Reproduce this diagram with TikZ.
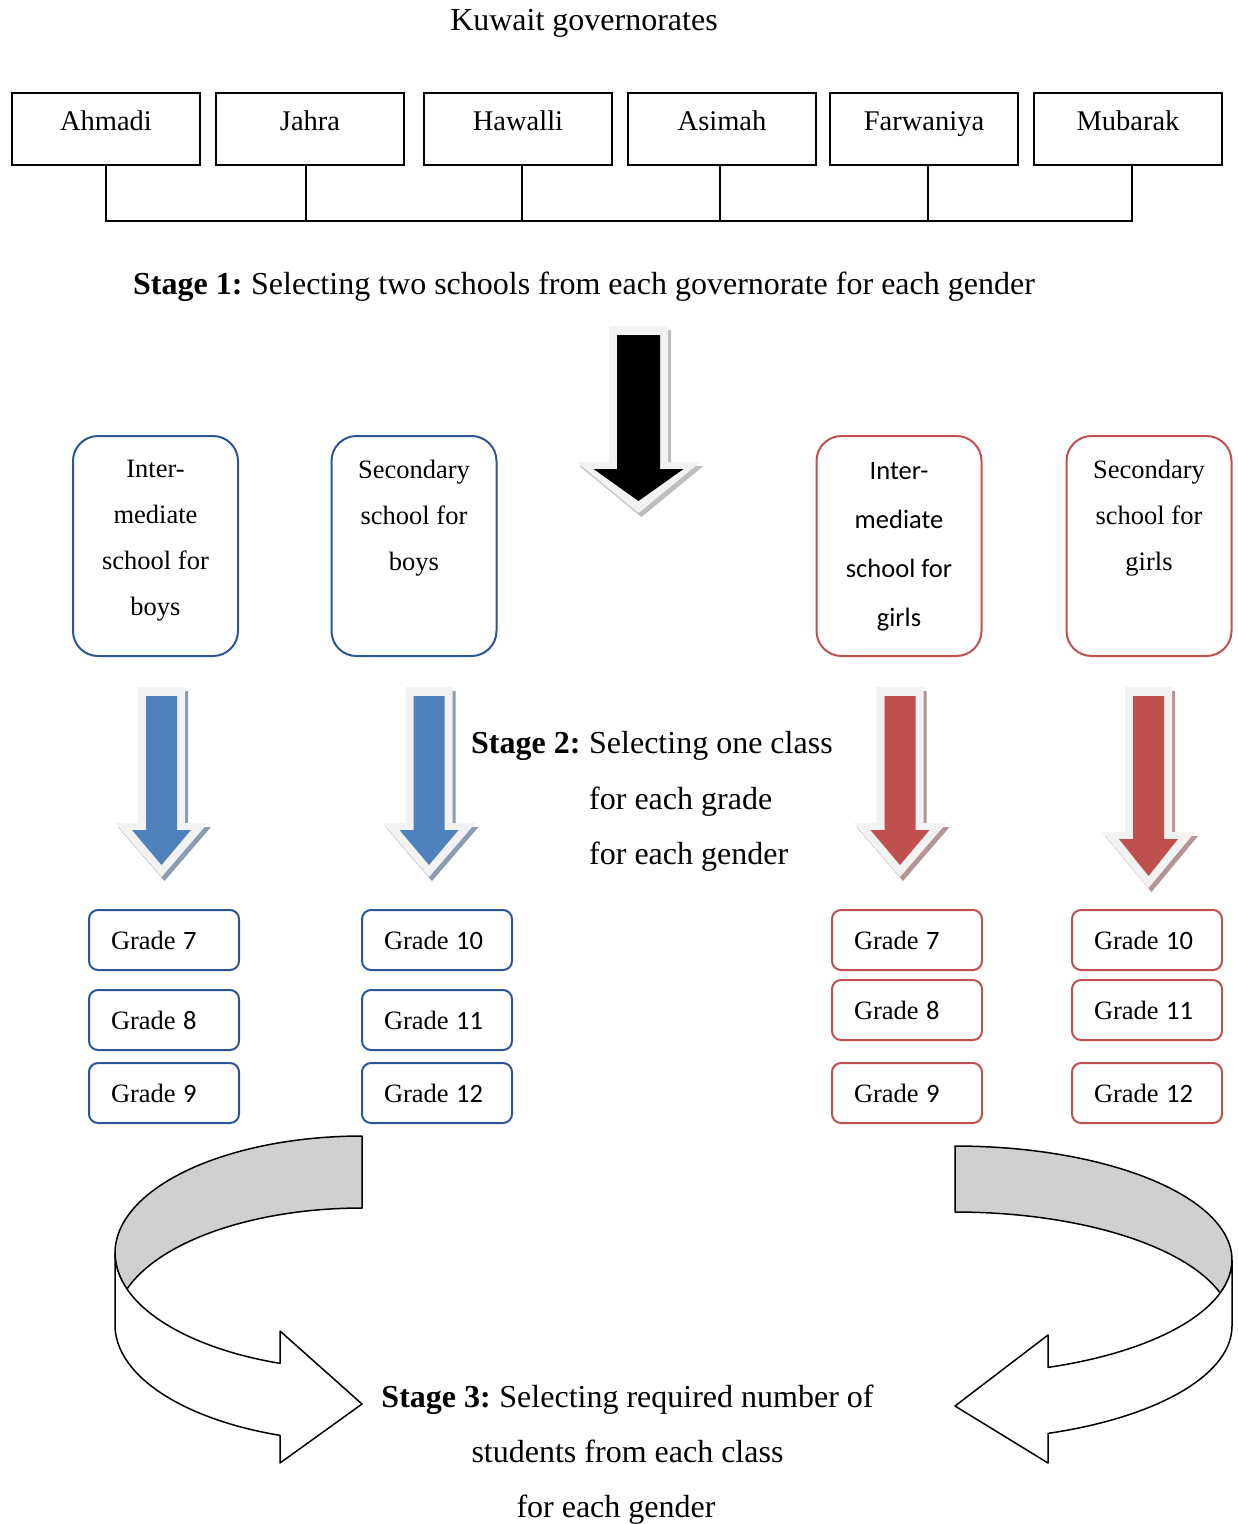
\documentclass[tikz,border=0pt]{standalone}
\usepackage{fontspec}
\setmainfont{Liberation Serif}
\newfontfamily\calib{Carlito}
\usetikzlibrary{calc}
\definecolor{bline}{HTML}{2C5593}
\definecolor{rline}{HTML}{C0504D}
\definecolor{bfill}{HTML}{4F81BD}
\definecolor{rfill}{HTML}{C0504D}
\definecolor{glow}{HTML}{F2F2F2}
\definecolor{bshadow}{HTML}{8C9BB0}
\definecolor{rshadow}{HTML}{B49494}
\definecolor{kshadow}{HTML}{BDBDBD}
\definecolor{ribbongray}{HTML}{D0D0D0}
% cx, top, shaft length, shaft half width, head half width, head length, fill, shadow
\newcommand\fatarrow[8]{%
  \begin{scope}[shift={(#1,#2)}]
    \fill[#8] ({-#4+3},4) -- ({#4+3},4) -- ({#4+3},{#3+4}) -- ({#5+3},{#3+4}) -- (3,{#3+#6+4}) -- ({-#5+3},{#3+4}) -- ({-#4+3},{#3+4}) -- cycle;
    \fill[glow] ({-#4},0) -- ({#4},0) -- ({#4},{#3}) -- ({#5},{#3}) -- (0,{#3+#6}) -- ({-#5},{#3}) -- ({-#4},{#3}) -- cycle;
    \fill[#7] ({-#4+8},9) -- ({#4-8},9) -- ({#4-8},{#3+7}) -- ({#5-17},{#3+7}) -- (0,{#3+#6-12}) -- ({-#5+17},{#3+7}) -- ({-#4+8},{#3+7}) -- cycle;
  \end{scope}}
\begin{document}
\begin{tikzpicture}[x=1pt,y=-1pt,
  govbox/.style={draw=black, line width=2pt, minimum width=188pt, minimum height=72pt, inner sep=0pt,
    font=\fontsize{28.5}{34}\selectfont, text height=19.5pt, text depth=16pt},
  conn/.style={line width=2pt},
  schoolbox/.style={rounded corners=25pt, line width=2pt, minimum width=165pt, minimum height=220pt, inner sep=0pt},
  boysbox/.style={schoolbox, draw=bline},
  girlsbox/.style={schoolbox, draw=rline},
  schooltext/.style={align=center, anchor=north, inner sep=0pt, font=\fontsize{26.5}{46}\selectfont},
  gradebox/.style={rounded corners=9pt, line width=2pt, minimum width=150pt, minimum height=60pt,
    inner xsep=22pt, inner ysep=0pt, text width=106pt, align=left,
    font=\fontsize{26.5}{30}\selectfont, text height=18pt, text depth=0pt},
  bgrade/.style={gradebox, draw=bline},
  rgrade/.style={gradebox, draw=rline},
  bigtext/.style={inner sep=0pt, font=\fontsize{32}{38}\selectfont},
  ribbon/.style={draw=black, line width=1.5pt, line join=round}]
\useasboundingbox (0,0) rectangle (1238,1524);

% title
\node[bigtext, anchor=base] (title) at (584,30) {Kuwait governorates};

% governorates
\node[govbox] (ahmadi) at (106,129) {Ahmadi};
\node[govbox] (jahra) at (310,129) {Jahra};
\node[govbox] (hawalli) at (518,129) {Hawalli};
\node[govbox] (asimah) at (722,129) {Asimah};
\node[govbox] (farwaniya) at (924,129) {Farwaniya};
\node[govbox] (mubarak) at (1128,129) {Mubarak};
\coordinate (bus) at (0,221);
\coordinate (mj) at ($(jahra.south)+(-4,0)$);
\coordinate (mh) at ($(hawalli.south)+(4,0)$);
\coordinate (ma) at ($(asimah.south)+(-2,0)$);
\coordinate (mf) at ($(farwaniya.south)+(4,0)$);
\coordinate (mm) at ($(mubarak.south)+(4,0)$);
\draw[conn] (ahmadi.south) -- (ahmadi.south |- bus) -- (mm |- bus) -- (mm);
\draw[conn] (mj) -- (mj |- bus);
\draw[conn] (mh) -- (mh |- bus);
\draw[conn] (ma) -- (ma |- bus);
\draw[conn] (mf) -- (mf |- bus);

% stage 1
\node[bigtext, anchor=base west] (stage1) at (133,294) {\textbf{Stage 1:}\hspace{-2pt} Selecting two schools from each governorate for each gender};

% big arrows
\fatarrow{638.5}{326}{136}{29.5}{62}{51}{black}{kshadow}
\fatarrow{161.5}{687}{136}{23.5}{46.5}{54}{bfill}{bshadow}
\fatarrow{429}{687}{136}{23.5}{46.5}{54}{bfill}{bshadow}
\fatarrow{900}{687}{136}{23.5}{46.5}{54}{rfill}{rshadow}
\fatarrow{1148.5}{687}{145}{23.5}{46.5}{56}{rfill}{rshadow}

% school boxes
\node[boysbox] (bint) at (155.5,546) {};
\node[schooltext] (binttext) at (155.5,460) {Inter-\\mediate\\school for\\boys};
\node[boysbox] (bsec) at (414,546) {};
\node[schooltext] (bsectext) at (414,460) {Secondary\\school for\\boys};
\node[girlsbox] (gint) at (899,546) {};
\node[schooltext, font=\calib\fontsize{26.5}{49}\selectfont] (ginttext) at (899,462) {Inter-\\mediate\\school for\\girls};
\node[girlsbox] (gsec) at (1149,546) {};
\node[schooltext] (gsectext) at (1149,460) {Secondary\\school for\\girls};

% stage 2
\node[bigtext, anchor=base west] (stage2a) at (471,753.5) {\textbf{Stage 2:}\hspace{-2pt} Selecting one class};
\node[bigtext, anchor=base west] (stage2b) at (589,809) {for each grade};
\node[bigtext, anchor=base west] (stage2c) at (589,864) {for each gender};

% grades
\node[bgrade] (b7) at (164,940) {Grade\hspace{-1.5pt} {\calib 7}};
\node[bgrade] (b8) at (164,1020) {Grade\hspace{-1.5pt} {\calib 8}};
\node[bgrade] (b9) at (164,1093) {Grade\hspace{-1.5pt} {\calib 9}};
\node[bgrade] (b10) at (437,940) {Grade\hspace{-1.5pt} {\calib 10}};
\node[bgrade] (b11) at (437,1020) {Grade\hspace{-1.5pt} {\calib 11}};
\node[bgrade] (b12) at (437,1093) {Grade\hspace{-1.5pt} {\calib 12}};
\node[rgrade] (g7) at (907,940) {Grade\hspace{-1.5pt} {\calib 7}};
\node[rgrade] (g8) at (907,1010) {Grade\hspace{-1.5pt} {\calib 8}};
\node[rgrade] (g9) at (907,1093) {Grade\hspace{-1.5pt} {\calib 9}};
\node[rgrade] (g10) at (1147,940) {Grade\hspace{-1.5pt} {\calib 10}};
\node[rgrade] (g11) at (1147,1010) {Grade\hspace{-1.5pt} {\calib 11}};
\node[rgrade] (g12) at (1147,1093) {Grade\hspace{-1.5pt} {\calib 12}};

% left curved arrow
\filldraw[ribbon, fill=ribbongray]
  plot[domain=270:162.08, samples=60] ({362+247*cos(\x)},{1253+117*sin(\x)})
  -- plot[domain=197.92:270, samples=50] ({362+247*cos(\x)},{1325+117*sin(\x)}) -- cycle;
\filldraw[ribbon, fill=white]
  plot[domain=180:109.39, samples=50] ({362+247*cos(\x)},{1253+117*sin(\x)})
  -- (280,1331) -- (362,1404) -- (280,1463)
  -- plot[domain=109.39:180, samples=50] ({362+247*cos(\x)},{1325+117*sin(\x)}) -- cycle;

% right curved arrow
\filldraw[ribbon, fill=ribbongray]
  plot[domain=270:376.83, samples=60] ({955+277*cos(\x)},{1260+114*sin(\x)})
  -- plot[domain=343.17:270, samples=50] ({955+277*cos(\x)},{1326+114*sin(\x)}) -- cycle;
\filldraw[ribbon, fill=white]
  plot[domain=0:70.38, samples=50] ({955+277*cos(\x)},{1260+114*sin(\x)})
  -- (1048,1335) -- (955,1406) -- (1048,1463)
  -- plot[domain=70.38:0, samples=50] ({955+277*cos(\x)},{1326+114*sin(\x)}) -- cycle;

% stage 3
\node[bigtext, anchor=base] (stage3a) at (627.5,1407.5) {\textbf{Stage 3:}\hspace{-2pt} Selecting required number of};
\node[bigtext, anchor=base] (stage3b) at (627.5,1462.5) {students from each class};
\node[bigtext, anchor=base] (stage3c) at (616,1517.5) {for each gender};
\end{tikzpicture}
\end{document}
